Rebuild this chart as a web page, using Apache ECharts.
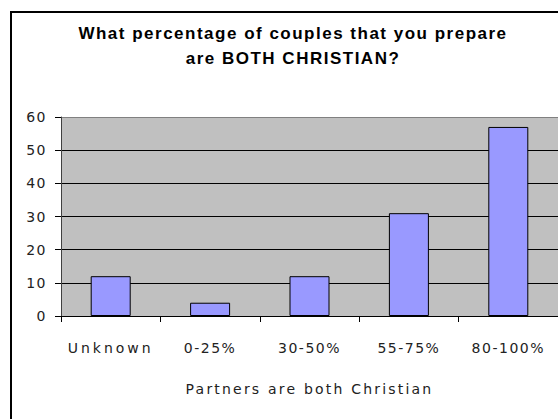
<!DOCTYPE html>
<html><head><meta charset="utf-8">
<script src="https://cdn.jsdelivr.net/npm/echarts@6/dist/echarts.min.js"></script>
<style>
html,body{margin:0;padding:0;background:#fff;}
#c{width:558px;height:419px;}
#c text{letter-spacing:1.5px;}
</style>
</head><body><div id="c"></div>
<script>
const titleLines = ['What percentage of couples that you prepare', 'are BOTH CHRISTIAN?'];
const categories = ['Unknown', '0-25%', '30-50%', '55-75%', '80-100%'];
const values = [12, 4, 12, 31, 57];
const yMin = 0, yMax = 60, yInterval = 10;
const xAxisName = 'Partners are both Christian';

const chart = echarts.init(document.getElementById('c'), null, {renderer: 'svg'});
const labelFont = {fontFamily: 'DejaVu Sans', fontSize: 14, color: '#222'};
function applySpacing() {
  const spacing = {};
  spacing['Unknown'] = '3px';
  spacing[xAxisName] = '2.2px';
  document.querySelectorAll('#c text').forEach(el => {
    const t = (el.textContent || '').trim();
    if (spacing[t]) el.style.letterSpacing = spacing[t];
  });
}
chart.on('finished', applySpacing);
chart.setOption({
  animation: false,
  title: {
    text: titleLines.join('\n'),
    left: 288, top: 16, textAlign: 'center',
    textStyle: {fontFamily: 'Liberation Sans', fontWeight: 'bold', fontSize: 17, lineHeight: 25, color: '#000'}
  },
  graphic: [{
    type: 'rect', z: 100, silent: true,
    shape: {x: 11, y: 12, width: 700, height: 700},
    style: {fill: 'none', stroke: '#000', lineWidth: 2}
  }],
  grid: {left: 61, top: 117, width: 500, height: 199, show: true, backgroundColor: '#C0C0C0', borderWidth: 0},
  xAxis: {
    type: 'category', data: categories,
    name: xAxisName, nameLocation: 'middle', nameGap: 66,
    nameTextStyle: Object.assign({}, labelFont),
    axisLine: {lineStyle: {color: '#000', width: 1}},
    axisTick: {show: true, length: 6, lineStyle: {color: '#000'}},
    axisLabel: Object.assign({margin: 25}, labelFont)
  },
  yAxis: {
    type: 'value', min: yMin, max: yMax, interval: yInterval,
    axisLine: {show: true, lineStyle: {color: '#404040', width: 1}},
    axisTick: {show: true, length: 6, lineStyle: {color: '#000'}},
    axisLabel: Object.assign({margin: 14}, labelFont),
    splitLine: {show: true, lineStyle: {color: ['#000', '#000', '#000', '#000', '#000', '#000', '#808080'], width: 1}}
  },
  series: [{
    type: 'bar', data: values, barWidth: 40,
    itemStyle: {color: '#9999FF', borderColor: '#000', borderWidth: 1}
  }]
});
applySpacing();
setTimeout(applySpacing, 0);
requestAnimationFrame(applySpacing);
</script>
</body></html>
